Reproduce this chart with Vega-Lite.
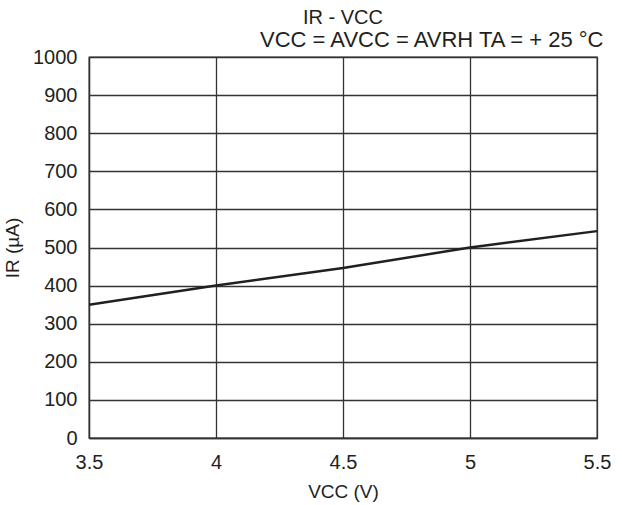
{
  "$schema": "https://vega.github.io/schema/vega-lite/v6.json",
  "autosize": "none",
  "width": 508,
  "height": 381,
  "padding": {"left": 89, "top": 57, "right": 25, "bottom": 67},
  "background": "white",
  "config": {
    "font": "Liberation Sans",
    "view": {"stroke": "#333", "strokeWidth": 1.3}
  },
  "title": {
    "text": "IR - VCC",
    "anchor": "middle",
    "fontSize": 20,
    "fontWeight": "normal",
    "color": "#231f20",
    "offset": 0
  },
  "data": {
    "values": [
      {"vcc": 3.5, "ir": 350},
      {"vcc": 4.0, "ir": 400},
      {"vcc": 4.5, "ir": 446},
      {"vcc": 5.0, "ir": 500},
      {"vcc": 5.5, "ir": 543}
    ]
  },
  "layer": [
    {
      "mark": {"type": "line", "color": "#231f20", "strokeWidth": 2.5},
      "encoding": {
        "x": {
          "field": "vcc", "type": "quantitative",
          "scale": {"domain": [3.5, 5.5], "nice": false, "zero": false},
          "axis": {
            "values": [3.5, 4, 4.5, 5, 5.5],
            "format": ".1~f",
            "title": "VCC (V)",
            "titleFontSize": 19, "titleFontWeight": "normal", "titleColor": "#231f20",
            "titlePadding": 10,
            "labelFontSize": 20, "labelColor": "#231f20", "labelPadding": 14,
            "labelOverlap": false, "labelFlush": false, "labelBound": false,
            "ticks": false,
            "domainColor": "#333", "domainWidth": 1.3,
            "grid": true, "gridColor": "#333", "gridWidth": 1.3, "gridOpacity": 1
          }
        },
        "y": {
          "field": "ir", "type": "quantitative",
          "scale": {"domain": [0, 1000], "nice": false},
          "axis": {
            "values": [0, 100, 200, 300, 400, 500, 600, 700, 800, 900, 1000],
            "format": "d",
            "title": "IR (µA)",
            "titleFontSize": 19, "titleFontWeight": "normal", "titleColor": "#231f20",
            "titlePadding": 10,
            "labelFontSize": 20, "labelColor": "#231f20", "labelPadding": 12,
            "labelOverlap": false, "labelFlush": false, "labelBound": false,
            "ticks": false,
            "domainColor": "#333", "domainWidth": 1.3,
            "grid": true, "gridColor": "#333", "gridWidth": 1.3, "gridOpacity": 1
          }
        }
      }
    },
    {
      "mark": {"type": "point", "opacity": 0},
      "encoding": {
        "x": {
          "field": "vcc", "type": "quantitative",
          "scale": {"domain": [3.5, 5.5], "nice": false, "zero": false},
          "axis": {
            "orient": "top",
            "labels": false, "ticks": false, "domain": false, "grid": false,
            "title": "VCC = AVCC = AVRH TA = + 25 °C",
            "titleFontSize": 22, "titleFontWeight": "normal", "titleColor": "#231f20",
            "titleX": 514, "titleAlign": "right", "titlePadding": 6
          }
        },
        "y": {
          "field": "ir", "type": "quantitative",
          "scale": {"domain": [0, 1000], "nice": false},
          "axis": {
            "values": [0, 100, 200, 300, 400, 500, 600, 700, 800, 900, 1000],
            "format": "d",
            "title": "IR (µA)",
            "titleFontSize": 19, "titleFontWeight": "normal", "titleColor": "#231f20",
            "titlePadding": 10,
            "labelFontSize": 20, "labelColor": "#231f20", "labelPadding": 12,
            "labelOverlap": false, "labelFlush": false, "labelBound": false,
            "ticks": false,
            "domainColor": "#333", "domainWidth": 1.3,
            "grid": true, "gridColor": "#333", "gridWidth": 1.3, "gridOpacity": 1
          }
        }
      }
    }
  ],
  "resolve": {"axis": {"x": "independent"}}
}
